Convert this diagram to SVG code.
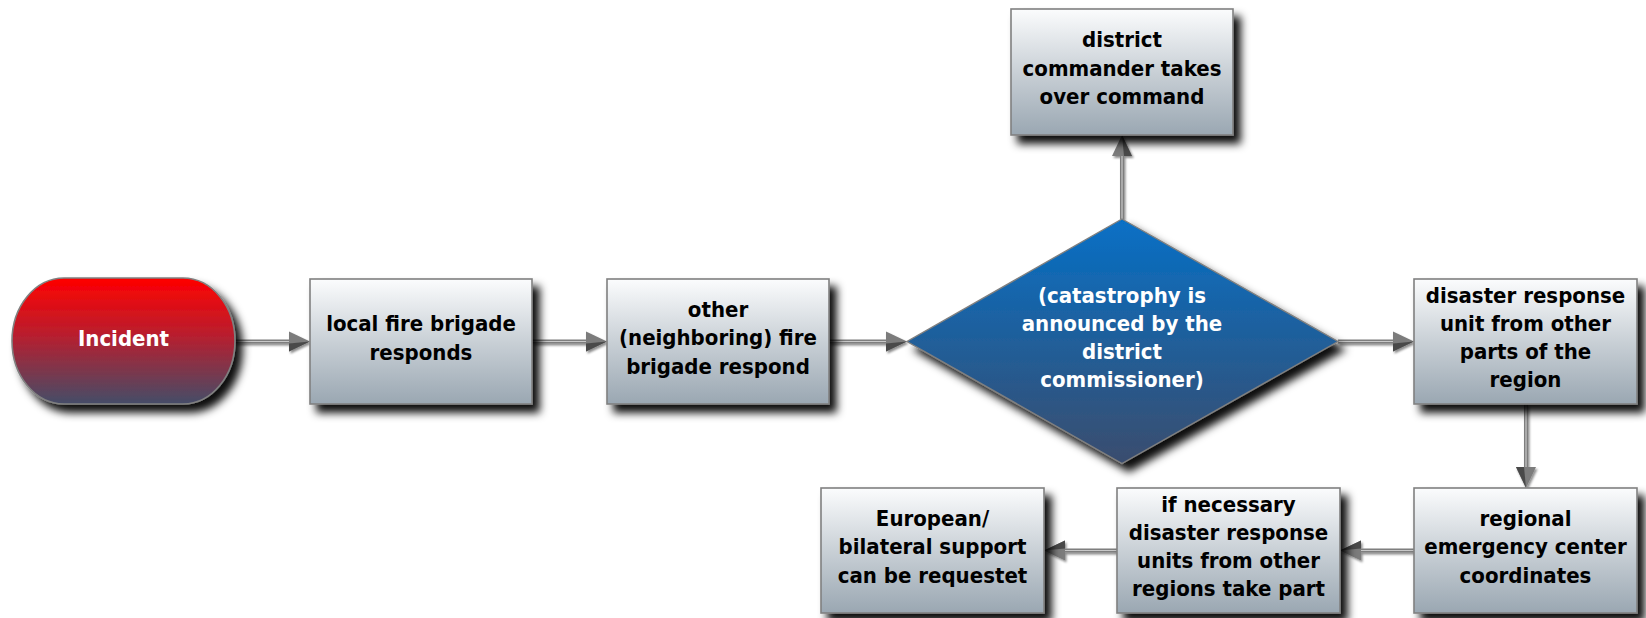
<svg xmlns="http://www.w3.org/2000/svg" width="1646" height="618" viewBox="0 0 1646 618">
<defs>
<linearGradient id="gBox" x1="0" y1="0" x2="0" y2="1">
<stop offset="0" stop-color="#fbfcfd"/>
<stop offset="0.5" stop-color="#c9d0d6"/>
<stop offset="1" stop-color="#9aa7b2"/>
</linearGradient>
<linearGradient id="gRed" x1="0" y1="0" x2="0" y2="1">
<stop offset="0" stop-color="#ff0000"/>
<stop offset="0.45" stop-color="#b91e2e"/>
<stop offset="1" stop-color="#444d68"/>
</linearGradient>
<linearGradient id="gBlue" x1="0" y1="0" x2="0" y2="1">
<stop offset="0" stop-color="#0670c6"/>
<stop offset="1" stop-color="#3a4d6e"/>
</linearGradient>
<filter id="shadow" x="-10%" y="-10%" width="135%" height="140%">
<feDropShadow dx="7" dy="8" stdDeviation="4" flood-color="#000" flood-opacity="0.95"/>
</filter>
<filter id="lshadow" x="-20%" y="-50%" width="140%" height="200%">
<feDropShadow dx="1.5" dy="2" stdDeviation="1" flood-color="#000" flood-opacity="0.45"/>
</filter>
<marker id="arrow" markerUnits="userSpaceOnUse" markerWidth="30" markerHeight="30" refX="0" refY="12" orient="auto" viewBox="0 0 30 30">
<path d="M0,2 L21,12 L0,22 Z" fill="#7b7b7b"/>
<path d="M0,14 L21,12 L0,22 Z" fill="#4a4a4a"/>
</marker>
</defs>
<style>
.box{fill:url(#gBox);stroke:#808080;stroke-width:1.6;filter:url(#shadow)}
.t{font-family:"DejaVu Sans Condensed","DejaVu Sans",sans-serif;font-stretch:condensed;font-weight:bold;font-size:22px;text-anchor:middle;fill:#000}
.w{fill:#fff}
.conn{fill:none;stroke:#7e7e7e;stroke-width:4;marker-end:url(#arrow)}
.inner{fill:none;stroke:#c8c8c8;stroke-width:1.2}
</style>
<g id="connectors" filter="url(#lshadow)">
<path class="conn" d="M235,341.5 H289"/><path class="inner" d="M235,341.5 H289"/>
<path class="conn" d="M532,341.5 H586"/><path class="inner" d="M532,341.5 H586"/>
<path class="conn" d="M829,341.5 H886"/><path class="inner" d="M829,341.5 H886"/>
<path class="conn" d="M1338,341.5 H1393"/><path class="inner" d="M1338,341.5 H1393"/>
<path class="conn" d="M1122,219 V156"/><path class="inner" d="M1122,219 V156"/>
<path class="conn" d="M1526,404 V467"/><path class="inner" d="M1526,404 V467"/>
<path class="conn" d="M1414,550.5 H1361"/><path class="inner" d="M1414,550.5 H1361"/>
<path class="conn" d="M1117,550.5 H1065"/><path class="inner" d="M1117,550.5 H1065"/>
</g>
<g id="incident">
<rect x="12" y="278" width="223" height="126" rx="52" ry="63" fill="url(#gRed)" stroke="#808080" stroke-width="1.6" filter="url(#shadow)"/>
<text class="t w" x="123.5" y="345.5">Incident</text>
</g>
<g id="local">
<rect class="box" x="310" y="279" width="222" height="125"/>
<text class="t" x="421" y="331.3">local fire brigade</text>
<text class="t" x="421" y="359.6">responds</text>
</g>
<g id="other">
<rect class="box" x="607" y="279" width="222" height="125"/>
<text class="t" x="718" y="317">other</text>
<text class="t" x="718" y="345.3">(neighboring) fire</text>
<text class="t" x="718" y="373.6">brigade respond</text>
</g>
<g id="decision">
<polygon points="1122,219 1338,341.5 1122,463.5 907,341.5" fill="url(#gBlue)" stroke="#808080" stroke-width="1.4" filter="url(#shadow)"/>
<text class="t w" x="1122" y="302.5">(catastrophy is</text>
<text class="t w" x="1122" y="330.8">announced by the</text>
<text class="t w" x="1122" y="359.1">district</text>
<text class="t w" x="1122" y="387.4">commissioner)</text>
</g>
<g id="district">
<rect class="box" x="1011" y="9" width="222" height="126"/>
<text class="t" x="1122" y="47.3">district</text>
<text class="t" x="1122" y="75.6">commander takes</text>
<text class="t" x="1122" y="103.9">over command</text>
</g>
<g id="disaster">
<rect class="box" x="1414" y="279" width="223" height="125"/>
<text class="t" x="1525.5" y="302.5">disaster response</text>
<text class="t" x="1525.5" y="330.8">unit from other</text>
<text class="t" x="1525.5" y="359.1">parts of the</text>
<text class="t" x="1525.5" y="387.4">region</text>
</g>
<g id="regional">
<rect class="box" x="1414" y="488" width="223" height="125"/>
<text class="t" x="1525.5" y="526">regional</text>
<text class="t" x="1525.5" y="554.3">emergency center</text>
<text class="t" x="1525.5" y="582.6">coordinates</text>
</g>
<g id="ifnecessary">
<rect class="box" x="1117" y="488" width="223" height="125"/>
<text class="t" x="1228.5" y="511.5">if necessary</text>
<text class="t" x="1228.5" y="539.8">disaster response</text>
<text class="t" x="1228.5" y="568.1">units from other</text>
<text class="t" x="1228.5" y="596.4">regions take part</text>
</g>
<g id="european">
<rect class="box" x="821" y="488" width="223" height="125"/>
<text class="t" x="932.5" y="526">European/</text>
<text class="t" x="932.5" y="554.3">bilateral support</text>
<text class="t" x="932.5" y="582.6">can be requestet</text>
</g>
</svg>
